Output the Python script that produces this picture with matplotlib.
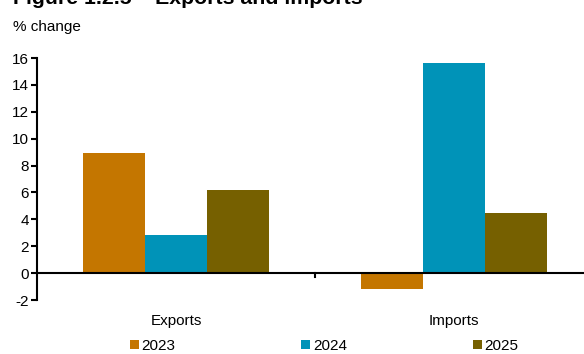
import numpy as np
import matplotlib.pyplot as plt

plt.rcParams['font.family'] = ['Liberation Sans', 'DejaVu Sans']

categories = ['Exports', 'Imports']
years = ['2023', '2024', '2025']
values = {
    '2023': [8.9, -1.2],
    '2024': [2.8, 15.6],
    '2025': [6.2, 4.5],
}
colors = ['#C47600', '#0093B8', '#766000']
yticks = [-2, 0, 2, 4, 6, 8, 10, 12, 14, 16]

fig = plt.figure(figsize=(5.84, 3.54), dpi=100)
ax = fig.add_axes([37/584, 1-300/354, 1-37/584, (300-58)/354])

x = np.arange(len(categories))
w = 0.223
for i, yr in enumerate(years):
    ax.bar(x + (i-1)*w, values[yr], width=w, color=colors[i], label=yr, zorder=2)

ax.axhline(0, color='black', lw=1.5, zorder=3)
ax.set_xlim(-0.5, -0.5 + (584-37)/278)
ax.set_ylim(-2, 16)
ax.set_yticks(yticks)
ax.set_yticklabels([str(t) for t in yticks], fontsize=11)
ax.set_xticks(x)
ax.set_xticklabels(categories, fontsize=11)
ax.tick_params(axis='x', length=0, pad=10)
ax.tick_params(axis='y', length=4, width=1.5, pad=2)
# tick between groups on the zero line
ax.plot([0.5, 0.5], [0, -0.3], color='black', lw=1.5, clip_on=False, zorder=3)

for s in ['top', 'right', 'bottom']:
    ax.spines[s].set_visible(False)
ax.spines['left'].set_linewidth(1.5)

fig.text(13/584, 1-27/354, '% change', fontsize=11, va='center', ha='left')
fig.text(13/584, 1-4/354, 'Figure 1.2.5 \u2013 Exports and imports', fontsize=15.3,
         fontweight='bold', va='baseline', ha='left')

fig.legend(loc='center', bbox_to_anchor=(0.555, 1-346/354), ncol=3, frameon=False,
           fontsize=11, handlelength=0.6, handleheight=0.6, handletextpad=0.2,
           columnspacing=8.2, borderpad=0)

fig.savefig('out.png', dpi=100)
